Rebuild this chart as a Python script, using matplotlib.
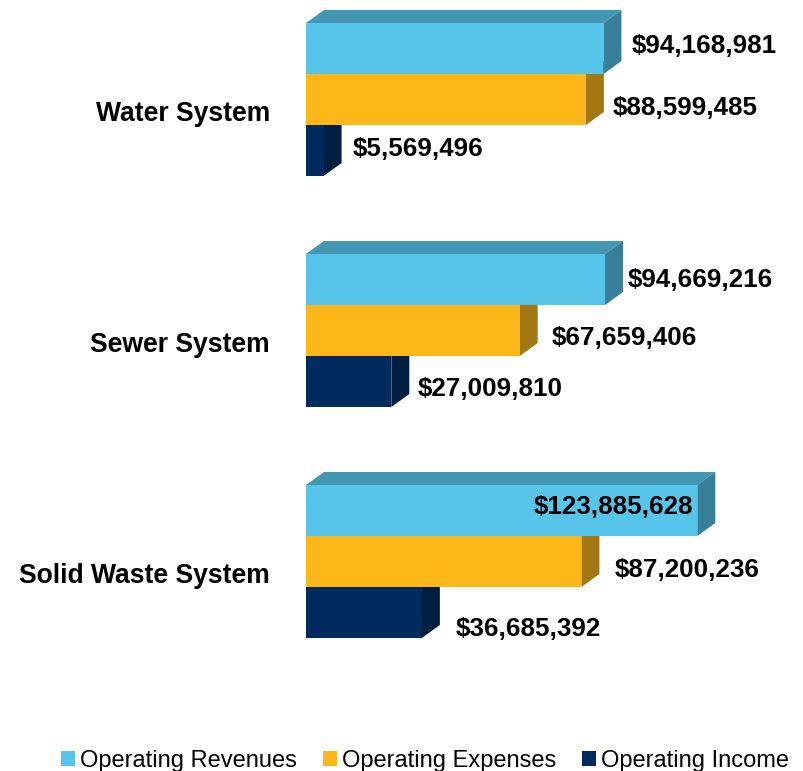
import matplotlib
matplotlib.use('Agg')
import matplotlib.pyplot as plt
from matplotlib.patches import Polygon, Patch

plt.rcParams['font.family'] = ['Liberation Sans', 'DejaVu Sans']

# ---------------- data ----------------
categories = ['Water System', 'Sewer System', 'Solid Waste System']
series_names = ['Operating Revenues', 'Operating Expenses', 'Operating Income']
revenues = [94168981, 94669216, 123885628]
expenses = [88599485, 67659406, 87200236]
income = [5569496, 27009810, 36685392]

# ---------------- style ----------------
front_colors = ['#57C5EA', '#FDB718', '#002B5F']
side_colors = ['#38809A', '#A37712', '#001E42']
top_colors = ['#4397B3', '#B88814', '#00244F']

# label placement tweaks in pixels: (gap after the bar, vertical shift of label centre)
label_dx = [[10, 9, 11], [5, 14, 8], [-4, 15, 16]]
label_dy = [[-4.5, 6, -3.5], [-1.5, 5.5, 5.5], [-5.5, 6, 14]]
label_inside = [[False, False, False], [False, False, False], [True, False, False]]

W, H, DPI = 804, 771, 100
fig = plt.figure(figsize=(W / DPI, H / DPI), dpi=DPI)
ax_left_px = 306
ax = fig.add_axes([ax_left_px / W, 0, 1 - ax_left_px / W, 1])

px_per_dollar = 391.3 / 123885628
group_px = 231.0
first_center_px = 99.5
bar_px = 51.0
depth_x_px, depth_y_px = 18.0, 13.0

ax.set_xlim(0, (W - ax_left_px) / px_per_dollar)
ax.set_ylim((H - first_center_px) / group_px, -first_center_px / group_px)
ax.axis('off')

def xpx(p):
    return p / px_per_dollar

def ypx(p):
    return p / group_px

bar_h = ypx(bar_px)
ddx = xpx(depth_x_px)
ddy = -ypx(depth_y_px)

series = [revenues, expenses, income]
label_font = dict(fontsize=18.7, fontweight='bold', color='black')
cat_font = dict(fontsize=19.1, fontweight='bold', color='black')
cap_half = 9.2  # half the cap height in px (for baseline placement)

# draw lowest bar first so upper bars hide hidden faces
for s in [2, 1, 0]:
    vals = series[s]
    ys = [i + (s - 1) * bar_h for i in range(len(categories))]
    z = 10 + (2 - s) * 3
    ax.barh(ys, vals, height=bar_h, color=front_colors[s], zorder=z + 2, linewidth=0)
    for i, (y, v) in enumerate(zip(ys, vals)):
        top = y - bar_h / 2
        bot = y + bar_h / 2
        side = Polygon([(v, bot), (v, top), (v + ddx, top + ddy), (v + ddx, bot + ddy)],
                       closed=True, facecolor=side_colors[s], edgecolor='none', zorder=z + 1)
        topf = Polygon([(0, top), (v, top), (v + ddx, top + ddy), (ddx, top + ddy)],
                       closed=True, facecolor=top_colors[s], edgecolor='none', zorder=z)
        ax.add_patch(side)
        ax.add_patch(topf)
        ly = y + ypx(label_dy[i][s] + cap_half)
        if label_inside[i][s]:
            ax.text(v + xpx(label_dx[i][s]), ly, f"${v:,}", ha='right', va='baseline',
                    zorder=30, **label_font)
        else:
            ax.text(v + ddx + xpx(label_dx[i][s]), ly, f"${v:,}", ha='left', va='baseline',
                    zorder=30, **label_font)

for i, c in enumerate(categories):
    ax.text(xpx(-36), i + ypx(12 + cap_half), c, ha='right', va='baseline',
            clip_on=False, **cat_font)

handles = [Patch(facecolor=front_colors[k], edgecolor='none', label=series_names[k])
           for k in range(3)]
fig.legend(handles=handles, loc='center', bbox_to_anchor=(425 / W, 10 / H), ncol=3,
           frameon=False, fontsize=17, handlelength=0.6, handleheight=0.6,
           handletextpad=0.2, columnspacing=1.1, borderpad=0, borderaxespad=0)

fig.savefig('out.png', dpi=DPI)
